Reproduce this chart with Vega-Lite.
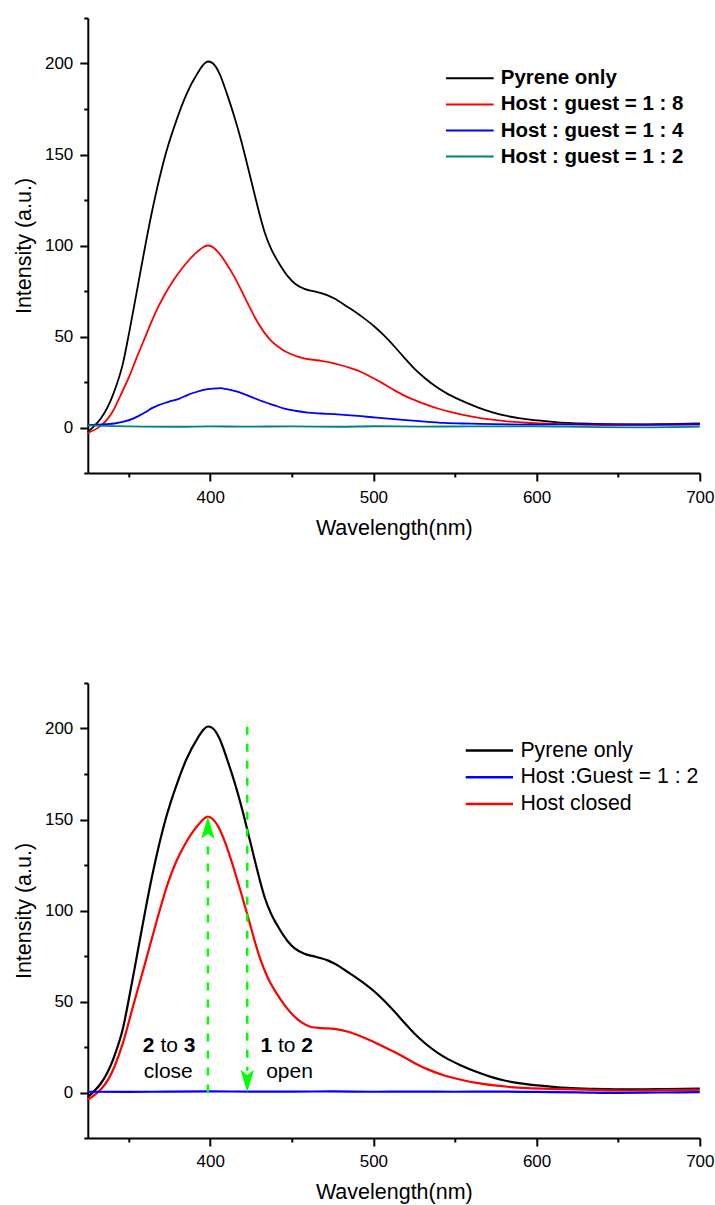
{
  "$schema": "https://vega.github.io/schema/vega-lite/v6.json",
  "padding": {"left": 12.8, "top": 9, "right": 0, "bottom": 0},
  "background": "white",
  "config": {
    "view": {"stroke": null},
    "font": "Liberation Sans",
    "axis": {
      "grid": false,
      "domainColor": "black",
      "domainWidth": 2,
      "tickColor": "black",
      "tickWidth": 2,
      "labelColor": "black",
      "titleColor": "black",
      "labelFont": "Liberation Sans",
      "titleFont": "Liberation Sans",
      "labelFontSize": 17,
      "titleFontSize": 21.5,
      "titleFontWeight": "normal",
      "labelFlush": false,
      "labelOverlap": false
    }
  },
  "datasets": {
    "top": [
      {"x":325,"y":-2.5,"s":"Pyrene only"},{"x":340.7,"y":18.6,"s":"Pyrene only"},{"x":346.5,"y":35.1,"s":"Pyrene only"},{"x":350.6,"y":53.4,"s":"Pyrene only"},{"x":355.7,"y":78,"s":"Pyrene only"},{"x":360.8,"y":102.7,"s":"Pyrene only"},{"x":364.9,"y":121,"s":"Pyrene only"},{"x":368,"y":133.5,"s":"Pyrene only"},{"x":373.1,"y":151.5,"s":"Pyrene only"},{"x":379.2,"y":168.5,"s":"Pyrene only"},{"x":385.3,"y":182.8,"s":"Pyrene only"},{"x":392.5,"y":195,"s":"Pyrene only"},{"x":396,"y":199.5,"s":"Pyrene only"},{"x":398.6,"y":201.1,"s":"Pyrene only"},{"x":401,"y":200.5,"s":"Pyrene only"},{"x":405.7,"y":194.5,"s":"Pyrene only"},{"x":410,"y":184,"s":"Pyrene only"},{"x":414.9,"y":170.5,"s":"Pyrene only"},{"x":419,"y":157.6,"s":"Pyrene only"},{"x":423.1,"y":143,"s":"Pyrene only"},{"x":427.1,"y":128.4,"s":"Pyrene only"},{"x":431.2,"y":114,"s":"Pyrene only"},{"x":433.3,"y":107.4,"s":"Pyrene only"},{"x":437.4,"y":98,"s":"Pyrene only"},{"x":441,"y":92,"s":"Pyrene only"},{"x":447.6,"y":83,"s":"Pyrene only"},{"x":452,"y":79,"s":"Pyrene only"},{"x":457.7,"y":76.2,"s":"Pyrene only"},{"x":463,"y":74.9,"s":"Pyrene only"},{"x":468,"y":73.8,"s":"Pyrene only"},{"x":472,"y":72.6,"s":"Pyrene only"},{"x":476.1,"y":70.9,"s":"Pyrene only"},{"x":484.3,"y":66.2,"s":"Pyrene only"},{"x":492.5,"y":61.2,"s":"Pyrene only"},{"x":500.6,"y":55.5,"s":"Pyrene only"},{"x":506,"y":51,"s":"Pyrene only"},{"x":512.9,"y":44.5,"s":"Pyrene only"},{"x":519,"y":38.3,"s":"Pyrene only"},{"x":525.1,"y":32.4,"s":"Pyrene only"},{"x":532,"y":26.8,"s":"Pyrene only"},{"x":539.4,"y":21.8,"s":"Pyrene only"},{"x":546,"y":18.2,"s":"Pyrene only"},{"x":553.7,"y":14.9,"s":"Pyrene only"},{"x":563.9,"y":11.1,"s":"Pyrene only"},{"x":572,"y":8.6,"s":"Pyrene only"},{"x":580.2,"y":6.6,"s":"Pyrene only"},{"x":590,"y":5,"s":"Pyrene only"},{"x":600.7,"y":3.9,"s":"Pyrene only"},{"x":610,"y":3.1,"s":"Pyrene only"},{"x":619,"y":2.5,"s":"Pyrene only"},{"x":635.3,"y":2,"s":"Pyrene only"},{"x":660,"y":1.7,"s":"Pyrene only"},{"x":680,"y":1.9,"s":"Pyrene only"},{"x":700,"y":2.2,"s":"Pyrene only"},
      {"x":325,"y":-3,"s":"Host : guest = 1 : 8"},{"x":340.7,"y":9.5,"s":"Host : guest = 1 : 8"},{"x":345,"y":17.5,"s":"Host : guest = 1 : 8"},{"x":350.6,"y":28.5,"s":"Host : guest = 1 : 8"},{"x":355,"y":38.5,"s":"Host : guest = 1 : 8"},{"x":360.8,"y":51,"s":"Host : guest = 1 : 8"},{"x":364,"y":58,"s":"Host : guest = 1 : 8"},{"x":368,"y":66,"s":"Host : guest = 1 : 8"},{"x":372,"y":72.8,"s":"Host : guest = 1 : 8"},{"x":377.2,"y":80.5,"s":"Host : guest = 1 : 8"},{"x":382,"y":86.5,"s":"Host : guest = 1 : 8"},{"x":387.3,"y":92.3,"s":"Host : guest = 1 : 8"},{"x":392,"y":96.5,"s":"Host : guest = 1 : 8"},{"x":396,"y":99.2,"s":"Host : guest = 1 : 8"},{"x":398.6,"y":100,"s":"Host : guest = 1 : 8"},{"x":401,"y":99.4,"s":"Host : guest = 1 : 8"},{"x":404.7,"y":96.5,"s":"Host : guest = 1 : 8"},{"x":409.8,"y":90.3,"s":"Host : guest = 1 : 8"},{"x":414.9,"y":82.6,"s":"Host : guest = 1 : 8"},{"x":419,"y":75.5,"s":"Host : guest = 1 : 8"},{"x":423.1,"y":68,"s":"Host : guest = 1 : 8"},{"x":428,"y":59.5,"s":"Host : guest = 1 : 8"},{"x":433.3,"y":52,"s":"Host : guest = 1 : 8"},{"x":438,"y":47,"s":"Host : guest = 1 : 8"},{"x":443.5,"y":43.2,"s":"Host : guest = 1 : 8"},{"x":449,"y":40.5,"s":"Host : guest = 1 : 8"},{"x":455.7,"y":38.4,"s":"Host : guest = 1 : 8"},{"x":462,"y":37.3,"s":"Host : guest = 1 : 8"},{"x":468,"y":36.6,"s":"Host : guest = 1 : 8"},{"x":474,"y":35.6,"s":"Host : guest = 1 : 8"},{"x":480.2,"y":34.2,"s":"Host : guest = 1 : 8"},{"x":486,"y":32.6,"s":"Host : guest = 1 : 8"},{"x":492.5,"y":30.5,"s":"Host : guest = 1 : 8"},{"x":498,"y":28,"s":"Host : guest = 1 : 8"},{"x":504.7,"y":24.8,"s":"Host : guest = 1 : 8"},{"x":512,"y":20.9,"s":"Host : guest = 1 : 8"},{"x":519,"y":17.5,"s":"Host : guest = 1 : 8"},{"x":526,"y":14.8,"s":"Host : guest = 1 : 8"},{"x":533.3,"y":12.3,"s":"Host : guest = 1 : 8"},{"x":540,"y":10.3,"s":"Host : guest = 1 : 8"},{"x":547.6,"y":8.4,"s":"Host : guest = 1 : 8"},{"x":555,"y":6.9,"s":"Host : guest = 1 : 8"},{"x":563.9,"y":5.4,"s":"Host : guest = 1 : 8"},{"x":574,"y":4.2,"s":"Host : guest = 1 : 8"},{"x":584.3,"y":3.2,"s":"Host : guest = 1 : 8"},{"x":594,"y":2.6,"s":"Host : guest = 1 : 8"},{"x":604.7,"y":2.2,"s":"Host : guest = 1 : 8"},{"x":625,"y":1.6,"s":"Host : guest = 1 : 8"},{"x":650,"y":1.3,"s":"Host : guest = 1 : 8"},{"x":675,"y":1.4,"s":"Host : guest = 1 : 8"},{"x":700,"y":1.6,"s":"Host : guest = 1 : 8"},
      {"x":325,"y":1.3,"s":"Host : guest = 1 : 4"},{"x":341.4,"y":2.2,"s":"Host : guest = 1 : 4"},{"x":347,"y":3.2,"s":"Host : guest = 1 : 4"},{"x":352.7,"y":4.9,"s":"Host : guest = 1 : 4"},{"x":356,"y":6.3,"s":"Host : guest = 1 : 4"},{"x":360.8,"y":8.6,"s":"Host : guest = 1 : 4"},{"x":364,"y":10.5,"s":"Host : guest = 1 : 4"},{"x":368,"y":12.2,"s":"Host : guest = 1 : 4"},{"x":374,"y":14,"s":"Host : guest = 1 : 4"},{"x":381.2,"y":15.9,"s":"Host : guest = 1 : 4"},{"x":386,"y":17.8,"s":"Host : guest = 1 : 4"},{"x":391.4,"y":19.5,"s":"Host : guest = 1 : 4"},{"x":396,"y":20.7,"s":"Host : guest = 1 : 4"},{"x":401.7,"y":21.4,"s":"Host : guest = 1 : 4"},{"x":406.7,"y":21.6,"s":"Host : guest = 1 : 4"},{"x":409.8,"y":21.1,"s":"Host : guest = 1 : 4"},{"x":414.9,"y":20.1,"s":"Host : guest = 1 : 4"},{"x":420,"y":18.6,"s":"Host : guest = 1 : 4"},{"x":425.1,"y":16.8,"s":"Host : guest = 1 : 4"},{"x":433.3,"y":14,"s":"Host : guest = 1 : 4"},{"x":439,"y":12.3,"s":"Host : guest = 1 : 4"},{"x":445.5,"y":10.4,"s":"Host : guest = 1 : 4"},{"x":452,"y":9.2,"s":"Host : guest = 1 : 4"},{"x":459.8,"y":8.2,"s":"Host : guest = 1 : 4"},{"x":468,"y":7.7,"s":"Host : guest = 1 : 4"},{"x":476.1,"y":7.3,"s":"Host : guest = 1 : 4"},{"x":484,"y":6.8,"s":"Host : guest = 1 : 4"},{"x":492.5,"y":6.2,"s":"Host : guest = 1 : 4"},{"x":502,"y":5.4,"s":"Host : guest = 1 : 4"},{"x":512.9,"y":4.6,"s":"Host : guest = 1 : 4"},{"x":528,"y":3.5,"s":"Host : guest = 1 : 4"},{"x":543.5,"y":2.5,"s":"Host : guest = 1 : 4"},{"x":560,"y":2.1,"s":"Host : guest = 1 : 4"},{"x":574.1,"y":1.8,"s":"Host : guest = 1 : 4"},{"x":600,"y":1.6,"s":"Host : guest = 1 : 4"},{"x":635,"y":1.8,"s":"Host : guest = 1 : 4"},{"x":670,"y":1.6,"s":"Host : guest = 1 : 4"},{"x":700,"y":1.8,"s":"Host : guest = 1 : 4"},
      {"x":325,"y":1.2,"s":"Host : guest = 1 : 2"},{"x":340,"y":0.8,"s":"Host : guest = 1 : 2"},{"x":360,"y":0.5,"s":"Host : guest = 1 : 2"},{"x":380,"y":0.4,"s":"Host : guest = 1 : 2"},{"x":400,"y":0.6,"s":"Host : guest = 1 : 2"},{"x":420,"y":0.5,"s":"Host : guest = 1 : 2"},{"x":450,"y":0.6,"s":"Host : guest = 1 : 2"},{"x":480,"y":0.4,"s":"Host : guest = 1 : 2"},{"x":500,"y":0.7,"s":"Host : guest = 1 : 2"},{"x":530,"y":0.5,"s":"Host : guest = 1 : 2"},{"x":560,"y":0.6,"s":"Host : guest = 1 : 2"},{"x":600,"y":0.6,"s":"Host : guest = 1 : 2"},{"x":630,"y":0.3,"s":"Host : guest = 1 : 2"},{"x":660,"y":0.1,"s":"Host : guest = 1 : 2"},{"x":700,"y":0.5,"s":"Host : guest = 1 : 2"}
    ],
    "bottom": [
      {"x":325,"y":-2.5,"s":"Pyrene only"},{"x":340.7,"y":18.6,"s":"Pyrene only"},{"x":346.5,"y":35.1,"s":"Pyrene only"},{"x":350.6,"y":53.4,"s":"Pyrene only"},{"x":355.7,"y":78,"s":"Pyrene only"},{"x":360.8,"y":102.7,"s":"Pyrene only"},{"x":364.9,"y":121,"s":"Pyrene only"},{"x":368,"y":133.5,"s":"Pyrene only"},{"x":373.1,"y":151.5,"s":"Pyrene only"},{"x":379.2,"y":168.5,"s":"Pyrene only"},{"x":385.3,"y":182.8,"s":"Pyrene only"},{"x":392.5,"y":195,"s":"Pyrene only"},{"x":396,"y":199.5,"s":"Pyrene only"},{"x":398.6,"y":201.1,"s":"Pyrene only"},{"x":401,"y":200.5,"s":"Pyrene only"},{"x":405.7,"y":194.5,"s":"Pyrene only"},{"x":410,"y":184,"s":"Pyrene only"},{"x":414.9,"y":170.5,"s":"Pyrene only"},{"x":419,"y":157.6,"s":"Pyrene only"},{"x":423.1,"y":143,"s":"Pyrene only"},{"x":427.1,"y":128.4,"s":"Pyrene only"},{"x":431.2,"y":114,"s":"Pyrene only"},{"x":433.3,"y":107.4,"s":"Pyrene only"},{"x":437.4,"y":98,"s":"Pyrene only"},{"x":441,"y":92,"s":"Pyrene only"},{"x":447.6,"y":83,"s":"Pyrene only"},{"x":452,"y":79,"s":"Pyrene only"},{"x":457.7,"y":76.2,"s":"Pyrene only"},{"x":463,"y":74.9,"s":"Pyrene only"},{"x":468,"y":73.8,"s":"Pyrene only"},{"x":472,"y":72.6,"s":"Pyrene only"},{"x":476.1,"y":70.9,"s":"Pyrene only"},{"x":484.3,"y":66.2,"s":"Pyrene only"},{"x":492.5,"y":61.2,"s":"Pyrene only"},{"x":500.6,"y":55.5,"s":"Pyrene only"},{"x":506,"y":51,"s":"Pyrene only"},{"x":512.9,"y":44.5,"s":"Pyrene only"},{"x":519,"y":38.3,"s":"Pyrene only"},{"x":525.1,"y":32.4,"s":"Pyrene only"},{"x":532,"y":26.8,"s":"Pyrene only"},{"x":539.4,"y":21.8,"s":"Pyrene only"},{"x":546,"y":18.2,"s":"Pyrene only"},{"x":553.7,"y":14.9,"s":"Pyrene only"},{"x":563.9,"y":11.1,"s":"Pyrene only"},{"x":572,"y":8.6,"s":"Pyrene only"},{"x":580.2,"y":6.6,"s":"Pyrene only"},{"x":590,"y":5,"s":"Pyrene only"},{"x":600.7,"y":3.9,"s":"Pyrene only"},{"x":610,"y":3.1,"s":"Pyrene only"},{"x":619,"y":2.5,"s":"Pyrene only"},{"x":635.3,"y":2,"s":"Pyrene only"},{"x":660,"y":1.7,"s":"Pyrene only"},{"x":680,"y":1.9,"s":"Pyrene only"},{"x":700,"y":2.2,"s":"Pyrene only"},
      {"x":325,"y":-4,"s":"Host closed"},{"x":341.4,"y":14.3,"s":"Host closed"},{"x":346.5,"y":27.1,"s":"Host closed"},{"x":352.7,"y":47.3,"s":"Host closed"},{"x":359.8,"y":70,"s":"Host closed"},{"x":365.9,"y":90,"s":"Host closed"},{"x":370,"y":103,"s":"Host closed"},{"x":374.1,"y":115,"s":"Host closed"},{"x":379,"y":126.5,"s":"Host closed"},{"x":384.3,"y":136,"s":"Host closed"},{"x":388.4,"y":142,"s":"Host closed"},{"x":392.5,"y":146.8,"s":"Host closed"},{"x":396,"y":150.3,"s":"Host closed"},{"x":398.6,"y":151.6,"s":"Host closed"},{"x":401.5,"y":150.3,"s":"Host closed"},{"x":404.7,"y":146.5,"s":"Host closed"},{"x":408,"y":140,"s":"Host closed"},{"x":412.9,"y":127.5,"s":"Host closed"},{"x":416,"y":118.5,"s":"Host closed"},{"x":419,"y":109.5,"s":"Host closed"},{"x":424.1,"y":93.5,"s":"Host closed"},{"x":428,"y":81,"s":"Host closed"},{"x":431.2,"y":72,"s":"Host closed"},{"x":434.3,"y":65,"s":"Host closed"},{"x":437,"y":60,"s":"Host closed"},{"x":441.4,"y":53.5,"s":"Host closed"},{"x":446,"y":47.5,"s":"Host closed"},{"x":451.6,"y":41.8,"s":"Host closed"},{"x":456,"y":38.5,"s":"Host closed"},{"x":461.8,"y":36,"s":"Host closed"},{"x":468,"y":35.4,"s":"Host closed"},{"x":476.1,"y":35,"s":"Host closed"},{"x":484,"y":33.5,"s":"Host closed"},{"x":492.5,"y":30.8,"s":"Host closed"},{"x":500,"y":27.9,"s":"Host closed"},{"x":506,"y":25.3,"s":"Host closed"},{"x":512.9,"y":22.2,"s":"Host closed"},{"x":520,"y":18.8,"s":"Host closed"},{"x":526,"y":15.8,"s":"Host closed"},{"x":533.3,"y":12.7,"s":"Host closed"},{"x":543,"y":9.5,"s":"Host closed"},{"x":553.7,"y":7,"s":"Host closed"},{"x":563,"y":5.3,"s":"Host closed"},{"x":574.1,"y":3.9,"s":"Host closed"},{"x":584,"y":3,"s":"Host closed"},{"x":594.5,"y":2.4,"s":"Host closed"},{"x":614.9,"y":1.9,"s":"Host closed"},{"x":635,"y":1.4,"s":"Host closed"},{"x":655.7,"y":1.1,"s":"Host closed"},{"x":680,"y":1.3,"s":"Host closed"},{"x":700,"y":1.5,"s":"Host closed"},
      {"x":325,"y":0.4,"s":"Host :Guest = 1 : 2"},{"x":350,"y":0.3,"s":"Host :Guest = 1 : 2"},{"x":375,"y":0.5,"s":"Host :Guest = 1 : 2"},{"x":400,"y":0.6,"s":"Host :Guest = 1 : 2"},{"x":425,"y":0.5,"s":"Host :Guest = 1 : 2"},{"x":450,"y":0.5,"s":"Host :Guest = 1 : 2"},{"x":475,"y":0.6,"s":"Host :Guest = 1 : 2"},{"x":500,"y":0.4,"s":"Host :Guest = 1 : 2"},{"x":525,"y":0.5,"s":"Host :Guest = 1 : 2"},{"x":550,"y":0.4,"s":"Host :Guest = 1 : 2"},{"x":575,"y":0.5,"s":"Host :Guest = 1 : 2"},{"x":600,"y":0.3,"s":"Host :Guest = 1 : 2"},{"x":625,"y":0.1,"s":"Host :Guest = 1 : 2"},{"x":650,"y":-0.2,"s":"Host :Guest = 1 : 2"},{"x":675,"y":0,"s":"Host :Guest = 1 : 2"},{"x":700,"y":0.2,"s":"Host :Guest = 1 : 2"}
    ],
    "arrows": [
      {"x":398.6,"y":0,"y2":140,"dir":"up","hy":145.5},
      {"x":422.7,"y":201,"y2":12,"dir":"down","hy":6.3}
    ],
    "notes": [
      {"x":362.3,"y":22.5,"t":"2","w":"bold"},
      {"x":374.9,"y":22.5,"t":"to","w":"normal"},
      {"x":387.3,"y":22.5,"t":"3","w":"bold"},
      {"x":374.3,"y":8.1,"t":"close","w":"normal"},
      {"x":434.4,"y":22.5,"t":"1","w":"bold"},
      {"x":446.9,"y":22.5,"t":"to","w":"normal"},
      {"x":459.4,"y":22.5,"t":"2","w":"bold"},
      {"x":448.6,"y":8.1,"t":"open","w":"normal"}
    ]
  },
  "spacing": 135,
  "resolve": {"scale": {"color": "independent", "shape": "independent"}, "legend": {"color": "independent"}},
  "vconcat": [
    {
      "width": 612,
      "height": 455,
      "data": {"name": "top"},
      "mark": {"type": "line", "strokeWidth": 1.8, "interpolate": "monotone"},
      "encoding": {
        "x": {"field": "x", "type": "quantitative",
          "scale": {"domain": [325, 700], "nice": false, "zero": false},
          "axis": {"title": "Wavelength(nm)", "values": [350,400,450,500,550,600,650,700],
            "labelExpr": "datum.value % 100 === 0 ? datum.label : ''",
            "tickSize": {"condition": {"test": "datum.value % 100 === 0", "value": 8}, "value": 4},
            "labelFontSize": 17, "titleFontSize": 21.5,
            "labelPadding": 8, "titlePadding": 12}},
        "y": {"field": "y", "type": "quantitative",
          "scale": {"domain": [-25, 225], "nice": false, "zero": false},
          "axis": {"title": "Intensity (a.u.)", "values": [-25,0,25,50,75,100,125,150,175,200,225],
            "labelExpr": "datum.value % 50 === 0 ? datum.label : ''",
            "tickSize": {"condition": {"test": "datum.value % 50 === 0", "value": 8}, "value": 4},
            "labelFontSize": 17, "titleFontSize": 21.5,
            "labelPadding": 7, "titlePadding": 9}},
        "color": {"field": "s", "type": "nominal",
          "scale": {"domain": ["Pyrene only", "Host : guest = 1 : 8", "Host : guest = 1 : 4", "Host : guest = 1 : 2"],
                    "range": ["#000000", "#FF0000", "#0000FF", "#008080"]},
          "legend": {"title": null, "orient": "none", "legendX": 357, "legendY": 49.3, "padding": 0,
            "symbolType": "stroke", "symbolSize": 2275, "symbolStrokeWidth": 2, "clipHeight": 22, "rowPadding": 4.1,
            "labelFontSize": 20.5, "labelFontWeight": "bold", "labelFont": "Liberation Sans", "labelColor": "black",
            "labelOffset": 6, "labelLimit": 0}}
      }
    },
    {
      "width": 612,
      "height": 455,
      "layer": [
        {
          "data": {"name": "bottom"},
          "mark": {"type": "line", "strokeWidth": 2.2, "interpolate": "monotone"},
          "encoding": {
            "x": {"field": "x", "type": "quantitative",
              "scale": {"domain": [325, 700], "nice": false, "zero": false},
              "axis": {"title": "Wavelength(nm)", "values": [350,400,450,500,550,600,650,700],
                "labelExpr": "datum.value % 100 === 0 ? datum.label : ''",
                "tickSize": {"condition": {"test": "datum.value % 100 === 0", "value": 8}, "value": 4},
                "labelFontSize": 17, "titleFontSize": 21.5,
                "labelPadding": 8, "titlePadding": 12}},
            "y": {"field": "y", "type": "quantitative",
              "scale": {"domain": [-25, 225], "nice": false, "zero": false},
              "axis": {"title": "Intensity (a.u.)", "values": [-25,0,25,50,75,100,125,150,175,200,225],
                "labelExpr": "datum.value % 50 === 0 ? datum.label : ''",
                "tickSize": {"condition": {"test": "datum.value % 50 === 0", "value": 8}, "value": 4},
                "labelFontSize": 17, "titleFontSize": 21.5,
                "labelPadding": 7, "titlePadding": 9}},
            "color": {"field": "s", "type": "nominal",
              "scale": {"domain": ["Pyrene only", "Host :Guest = 1 : 2", "Host closed"],
                        "range": ["#000000", "#0000FF", "#FF0000"]},
              "legend": {"title": null, "orient": "none", "legendX": 376.6, "legendY": 56.6, "padding": 0,
                "symbolType": "stroke", "symbolSize": 2240, "symbolStrokeWidth": 2.5, "clipHeight": 22, "rowPadding": 4.7,
                "labelFontSize": 21.3, "labelFont": "Liberation Sans", "labelColor": "black",
                "labelOffset": 6, "labelLimit": 0}}
          }
        },
        {
          "data": {"name": "arrows"},
          "mark": {"type": "rule", "color": "#00FF00", "strokeWidth": 2.5, "strokeDash": [8, 9]},
          "encoding": {
            "x": {"field": "x", "type": "quantitative"},
            "y": {"field": "y", "type": "quantitative"},
            "y2": {"field": "y2"}
          }
        },
        {
          "data": {"name": "arrows"},
          "mark": {"type": "point", "filled": true, "color": "#00FF00", "opacity": 1, "size": 500},
          "encoding": {
            "x": {"field": "x", "type": "quantitative"},
            "y": {"field": "hy", "type": "quantitative"},
            "shape": {"field": "dir", "type": "nominal",
              "scale": {"domain": ["up", "down"], "range": ["M0,-1L0.6,1L0,0.55L-0.6,1Z", "M0,1L0.6,-1L0,-0.55L-0.6,-1Z"]},
              "legend": null}
          }
        },
        {
          "data": {"name": "notes"},
          "transform": [{"filter": "datum.w === 'bold'"}],
          "mark": {"type": "text", "fontSize": 21, "fontWeight": "bold", "font": "Liberation Sans", "color": "black", "align": "center", "baseline": "alphabetic"},
          "encoding": {
            "x": {"field": "x", "type": "quantitative"},
            "y": {"field": "y", "type": "quantitative"},
            "text": {"field": "t"}
          }
        },
        {
          "data": {"name": "notes"},
          "transform": [{"filter": "datum.w === 'normal'"}],
          "mark": {"type": "text", "fontSize": 21, "font": "Liberation Sans", "color": "black", "align": "center", "baseline": "alphabetic"},
          "encoding": {
            "x": {"field": "x", "type": "quantitative"},
            "y": {"field": "y", "type": "quantitative"},
            "text": {"field": "t"}
          }
        }
      ]
    }
  ]
}
